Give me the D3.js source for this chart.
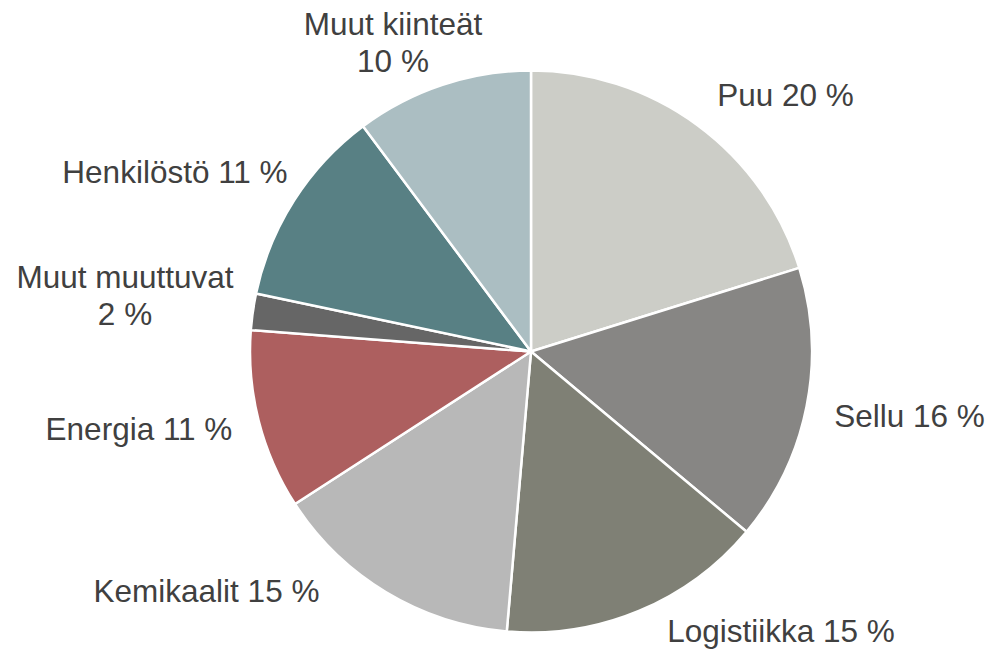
<!DOCTYPE html>
<html>
<head>
<meta charset="utf-8">
<script src="https://cdn.jsdelivr.net/npm/d3@7"></script>
<style>
  html, body { margin: 0; padding: 0; background: #fff; }
  svg { display: block; }
</style>
</head>
<body>
<svg id="chart" width="1001" height="650"></svg>
<script>
// ---- data ----
const categories = ["Puu", "Sellu", "Logistiikka", "Kemikaalit", "Energia", "Muut muuttuvat", "Henkilöstö", "Muut kiinteät"];
const values = [20.2, 15.9, 15.3, 14.5, 10.35, 2.1, 11.5, 10.2];
const labelPercents = ["20 %", "16 %", "15 %", "15 %", "11 %", "2 %", "11 %", "10 %"];
const colors = ["#CCCDC7", "#878684", "#7F8075", "#B8B8B8", "#AD5F5F", "#666666", "#588084", "#ABBEC2"];

// ---- layout ----
const W = 1001, H = 650;
const cx = 531, cy = 351.5, R = 281;
// label placement: [center x, first baseline y, split to two lines]
const labelLayout = [
  [785.5, 106, false],
  [909.5, 426.5, false],
  [781, 641.5, false],
  [206.5, 602, false],
  [139, 440, false],
  [125, 288, true],
  [175, 183, false],
  [393, 35, true]
];
const fontSize = 31.5, lineGap = 37;

const svg = d3.select("#chart");
const g = svg.append("g").attr("transform", `translate(${cx},${cy})`);

const data = categories.map((c, i) => ({ name: c, value: values[i], pct: labelPercents[i], color: colors[i] }));
const pie = d3.pie().value(d => d.value).sort(null).startAngle(0).endAngle(2 * Math.PI);
const arc = d3.arc().innerRadius(0).outerRadius(R);

g.selectAll("path.slice")
  .data(pie(data))
  .join("path")
  .attr("class", "slice")
  .attr("d", arc)
  .attr("fill", d => d.data.color)
  .attr("stroke", "#fff")
  .attr("stroke-width", 2.5)
  .attr("stroke-linejoin", "round");

const labels = svg.selectAll("text.lbl")
  .data(data)
  .join("text")
  .attr("class", "lbl")
  .attr("text-anchor", "middle")
  .attr("font-family", "'Liberation Sans', Arial, sans-serif")
  .attr("font-size", fontSize)
  .attr("fill", "#404040");

labels.each(function(d, i) {
  const [x, y, twoLines] = labelLayout[i];
  const t = d3.select(this);
  if (twoLines) {
    t.append("tspan").attr("x", x).attr("y", y).text(d.name);
    t.append("tspan").attr("x", x).attr("y", y + lineGap).text(d.pct);
  } else {
    t.append("tspan").attr("x", x).attr("y", y).text(d.name + " " + d.pct);
  }
});
</script>
</body>
</html>
